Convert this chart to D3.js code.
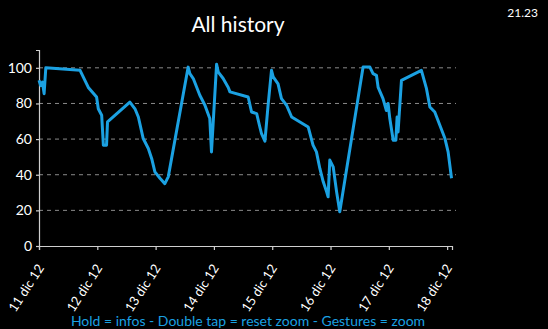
<!DOCTYPE html>
<html>
<head>
<meta charset="utf-8">
<script src="https://cdn.jsdelivr.net/npm/d3@7"></script>
<style>
  body { margin: 0; background: #000; }
  svg { display: block; }
</style>
</head>
<body>
<div id="chart"></div>
<script>
var w = 548;
var h = 329;

// hours since 11 dic 12 00:00, and the matching values
var hours = [0, 0.7, 1.4, 2.1, 2.8, 16.9, 20.3, 23.7, 24.4, 25.8, 26.5, 27.8, 28.2,
    37.4, 39.5, 40.9, 42.9, 45.0, 46.4, 47.7, 49.8, 51.8, 53.2,
    61.4, 62.1, 63.5, 66.2, 68.3, 70.3, 71.0, 73.1, 73.8, 75.8, 77.9, 78.6,
    86.1, 87.5, 89.6, 90.9, 91.6, 93.0, 94.3, 95.7, 96.4, 98.4, 99.8, 101.9, 104.0,
    110.8, 112.8, 114.2, 115.6, 117.0, 118.4, 119.0, 119.7, 121.1, 122.5, 123.8,
    133.4, 136.2, 137.5, 138.9, 139.6, 141.6, 143.0, 143.7, 144.4, 145.8, 146.9, 147.4, 147.8, 149.2,
    157.4, 159.5, 160.9, 162.9, 165.0, 167.1, 168.4, 169.8];
var values = [93, 90, 92, 85.5, 100, 98.6, 89, 83.6, 77, 73.4, 56.6, 56.6, 69.6,
    80.8, 77, 72.4, 60.3, 54.7, 49, 41.6, 38, 35, 38.8,
    100.4, 96.7, 94, 84.6, 79, 71.5, 52.8, 102, 97.6, 94, 89, 86.5,
    83.6, 75.2, 74.3, 66.8, 63, 58.8, 79, 98.6, 94.9, 91, 82.7, 79, 72.4,
    66.8, 56.6, 52.8, 43.5, 36, 30.4, 27.6, 48.2, 44.4, 30.4, 19.2,
    100.4, 100.4, 96.7, 95.8, 89, 82.7, 76, 80, 71.5, 59.4, 59.4, 72.4, 64, 93,
    98.6, 88.3, 78, 75.2, 67.8, 60.3, 52.8, 38];

var dayTicks = [0, 24, 48, 72, 96, 120, 144, 168];
var dayLabels = ["11 dic 12", "12 dic 12", "13 dic 12", "14 dic 12",
    "15 dic 12", "16 dic 12", "17 dic 12", "18 dic 12"];
var yTicks = [0, 20, 40, 60, 80, 100];

var font = "Lato, 'Open Sans', sans-serif";
var blue = "#1ba1e2";

var svg = d3.select("#chart")
    .append("svg")
    .attr("width", w)
    .attr("height", h)
    .style("background", "#000");

var x = d3.scaleLinear().domain([0, 170]).range([39, 452]);
var y = d3.scaleLinear().domain([0, 110]).range([246, 50]);

// title and clock
svg.append("text")
    .attr("x", 238)
    .attr("y", 32)
    .attr("text-anchor", "middle")
    .attr("font-family", font)
    .attr("font-size", 21)
    .attr("fill", "#fff")
    .text("All history");

svg.append("text")
    .attr("x", 538)
    .attr("y", 17)
    .attr("text-anchor", "end")
    .attr("font-family", font)
    .attr("font-size", 12)
    .attr("fill", "#fff")
    .text("21.23");

// dashed grid
svg.append("g")
    .selectAll("line")
    .data(yTicks.slice(1))
    .join("line")
    .attr("x1", x(0))
    .attr("x2", 456)
    .attr("y1", d => y(d))
    .attr("y2", d => y(d))
    .attr("stroke", "#8a8a8a")
    .attr("stroke-width", 1)
    .attr("stroke-dasharray", "4,4");

// y axis
var yAxis = svg.append("g")
    .attr("transform", "translate(" + x(0) + ",0)")
    .call(d3.axisLeft(y).tickValues(yTicks).tickSize(3).tickPadding(4));

// x axis
var xAxis = svg.append("g")
    .attr("transform", "translate(0," + y(0) + ")")
    .call(d3.axisBottom(x).tickValues(dayTicks).tickSize(4)
        .tickFormat((d, i) => dayLabels[i]));

[yAxis, xAxis].forEach(function (g) {
    g.select(".domain").attr("stroke", "#cfcfcf").attr("stroke-width", 1.2);
    g.selectAll(".tick line").attr("stroke", "#cfcfcf").attr("stroke-width", 1.2);
    g.selectAll("text")
        .attr("fill", "#fff")
        .attr("font-family", font)
        .attr("font-size", 14);
});

xAxis.selectAll(".tick text")
    .attr("font-size", 13)
    .attr("text-anchor", "end")
    .attr("dy", null)
    .attr("y", 0)
    .attr("transform", "translate(5,22) rotate(-57)");

// the line
var line = d3.line()
    .x((d, i) => x(hours[i]))
    .y(d => y(d));

svg.append("path")
    .datum(values)
    .attr("fill", "none")
    .attr("stroke", blue)
    .attr("stroke-width", 3)
    .attr("stroke-linejoin", "round")
    .attr("d", line);

// hint at bottom
svg.append("text")
    .attr("x", 248)
    .attr("y", 326)
    .attr("text-anchor", "middle")
    .attr("font-family", font)
    .attr("font-size", 14)
    .attr("fill", blue)
    .text("Hold = infos - Double tap = reset zoom - Gestures = zoom");
</script>
</body>
</html>
